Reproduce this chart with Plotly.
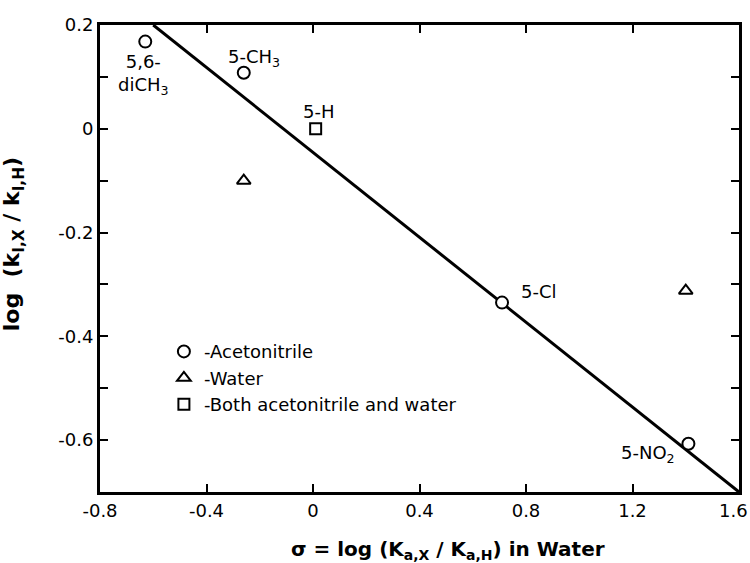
import plotly.graph_objects as go

# Data
acn_x = [-0.63, -0.26, 0.71, 1.41]
acn_y = [0.168, 0.108, -0.335, -0.607]
acn_labels = ["5,6-<br>diCH<sub>3</sub>", "5-CH<sub>3</sub>", "5-Cl", "5-NO<sub>2</sub>"]
water_x = [-0.26, 1.40]
water_y = [-0.10, -0.312]
both_x = [0.01]
both_y = [0.0]
both_labels = ["5-H"]
fit_x = [-0.60, 1.60]
fit_y = [0.20, -0.70]

x_ticks = [-0.8, -0.4, 0, 0.4, 0.8, 1.2, 1.6]
x_ticktext = ["-0.8", "-0.4", "0", "0.4", "0.8", "1.2", "1.6\u00a0\u00a0"]
y_ticks = [0.2, 0.1, 0, -0.1, -0.2, -0.3, -0.4, -0.5, -0.6]
y_ticktext = ["0.2", "", "0", "", "-0.2", "", "-0.4", "", "-0.6"]

FONT = "DejaVu Sans"
fig = go.Figure()

fig.add_trace(go.Scatter(x=fit_x, y=fit_y, mode="lines",
                         line=dict(color="black", width=3), showlegend=False))
fig.add_trace(go.Scatter(x=acn_x, y=acn_y, mode="markers", name="-Acetonitrile",
                         marker=dict(symbol="circle", size=12, color="white",
                                     line=dict(color="black", width=2))))
fig.add_trace(go.Scatter(x=water_x, y=water_y, mode="markers", name="-Water",
                         marker=dict(symbol="triangle-up", size=12, color="white",
                                     line=dict(color="black", width=2))))
fig.add_trace(go.Scatter(x=both_x, y=both_y, mode="markers", name="-Both acetonitrile and water",
                         marker=dict(symbol="square", size=11, color="white",
                                     line=dict(color="black", width=2))))

# point labels
label_pos = [(-0.635, 0.105), (-0.22, 0.136), (0.85, -0.314), (1.26, -0.626)]
for (lx, ly), txt in zip(label_pos, acn_labels):
    fig.add_annotation(x=lx, y=ly, text=txt, showarrow=False,
                       font=dict(family=FONT, size=18, color="black"))
fig.add_annotation(x=0.02, y=0.034, text=both_labels[0], showarrow=False,
                   font=dict(family=FONT, size=18, color="black"))

# axis titles as annotations
fig.add_annotation(xref="paper", yref="paper", x=0.545, y=-0.125, yanchor="middle",
                   text="<b>σ = log (K<sub>a,X</sub> / K<sub>a,H</sub>) in Water</b>",
                   showarrow=False, font=dict(family=FONT, size=20, color="black"))
fig.add_annotation(xref="paper", yref="paper", x=-0.135, y=0.53, xanchor="center",
                   text="<b>log  (k<sub>I,X</sub> / k<sub>I,H</sub>)</b>", textangle=-90,
                   showarrow=False, font=dict(family=FONT, size=22, color="black"))

axis_common = dict(showgrid=False, zeroline=False, showline=True, linecolor="black",
                   linewidth=3, mirror="ticks", ticks="inside", ticklen=8,
                   tickwidth=2, tickcolor="black", ticklabeloverflow="allow",
                   automargin=False,
                   tickfont=dict(family=FONT, size=18, color="black"))
fig.update_xaxes(range=[-0.8, 1.6], tickvals=x_ticks, ticktext=x_ticktext, **axis_common)
fig.update_yaxes(range=[-0.7, 0.2], tickvals=y_ticks, ticktext=y_ticktext, **axis_common)

fig.update_layout(
    width=750, height=563, plot_bgcolor="white", paper_bgcolor="white",
    margin=dict(l=100, r=11, t=25, b=71, autoexpand=False),
    legend=dict(x=0.1, y=0.34, xanchor="left", yanchor="top", bgcolor="rgba(0,0,0,0)",
                font=dict(family=FONT, size=18, color="black"), itemwidth=30,
                tracegroupgap=0),
)

fig.write_html("out.html")
